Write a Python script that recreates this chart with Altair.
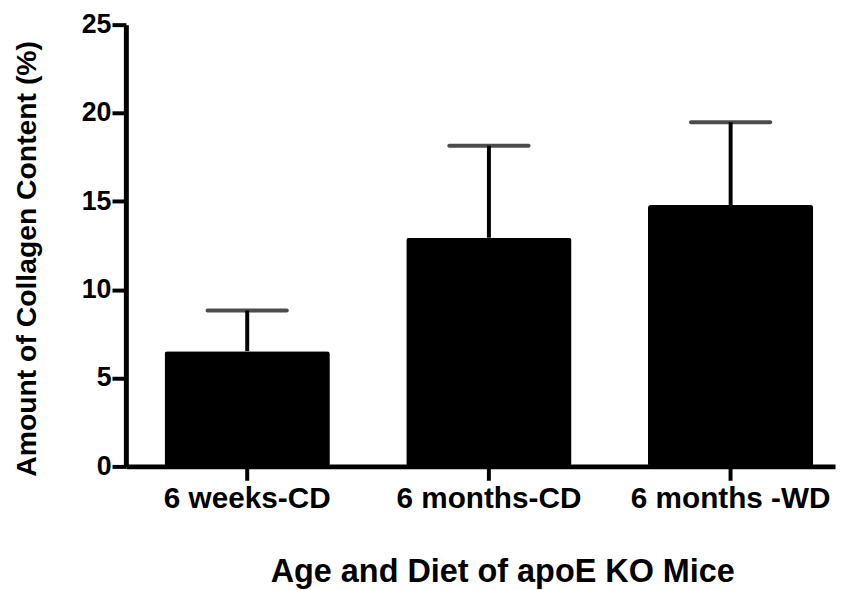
import altair as alt
import pandas as pd

# Data
groups = ["6 weeks-CD", "6 months-CD", "6 months -WD"]
means = [6.52, 12.94, 14.79]
errors = [2.30, 5.21, 4.69]
y_ticks = [0, 5, 10, 15, 20, 25]

df = pd.DataFrame({
    "group": groups,
    "mean": means,
    "upper": [m + e for m, e in zip(means, errors)],
})

FONT = "Liberation Sans"
W, H = 716, 446

xscale = alt.Scale(domain=groups, paddingInner=0.316, paddingOuter=0.125, align=0.64)
yscale = alt.Scale(domain=[0, 25], nice=False, zero=True)

x_enc = alt.X(
    "group:N", scale=xscale, sort=groups,
    axis=alt.Axis(
        title="Age and Diet of apoE KO Mice",
        labelAngle=0, labelFontSize=30, labelBaseline="alphabetic", labelPadding=28,
        labelLimit=0, labelOverlap=False,
        tickSize=14, titleFontSize=32.7, titleX=380, titleY=116,
        titleBaseline="alphabetic", titleAlign="center",
    ),
)

base = alt.Chart(df).encode(x=x_enc)

bars = base.mark_bar(color="black", cornerRadius=3).encode(
    y=alt.Y(
        "mean:Q", scale=yscale,
        axis=alt.Axis(
            title="Amount of Collagen Content (%)", values=y_ticks,
            labelFontSize=27, labelPadding=1, tickSize=14,
            titleFontSize=28.6, titleAngle=270, titleX=-91, titleY=236,
            titleBaseline="alphabetic", titleAlign="center",
        ),
    )
)

stems = base.mark_rule(color="black", strokeWidth=4).encode(
    y=alt.Y("mean:Q", scale=yscale), y2="upper:Q"
)

caps = base.mark_tick(color="black", size=84, thickness=4, cornerRadius=2).encode(
    y=alt.Y("upper:Q", scale=yscale)
)

chart = (
    alt.layer(bars, stems, caps)
    .properties(
        width=W, height=H,
        autosize=alt.AutoSizeParams(type="none"),
        padding={"left": 119, "top": 14, "right": 5, "bottom": 124},
    )
    .configure_view(stroke=None)
    .configure_axis(
        grid=False,
        labelFont=FONT, labelFontWeight="bold", labelColor="black",
        titleFont=FONT, titleFontWeight="bold", titleColor="black",
        domainColor="black", domainWidth=5, tickColor="black", tickWidth=4,
    )
)

chart.save("out.html", embed_options={"renderer": "svg", "actions": False})
